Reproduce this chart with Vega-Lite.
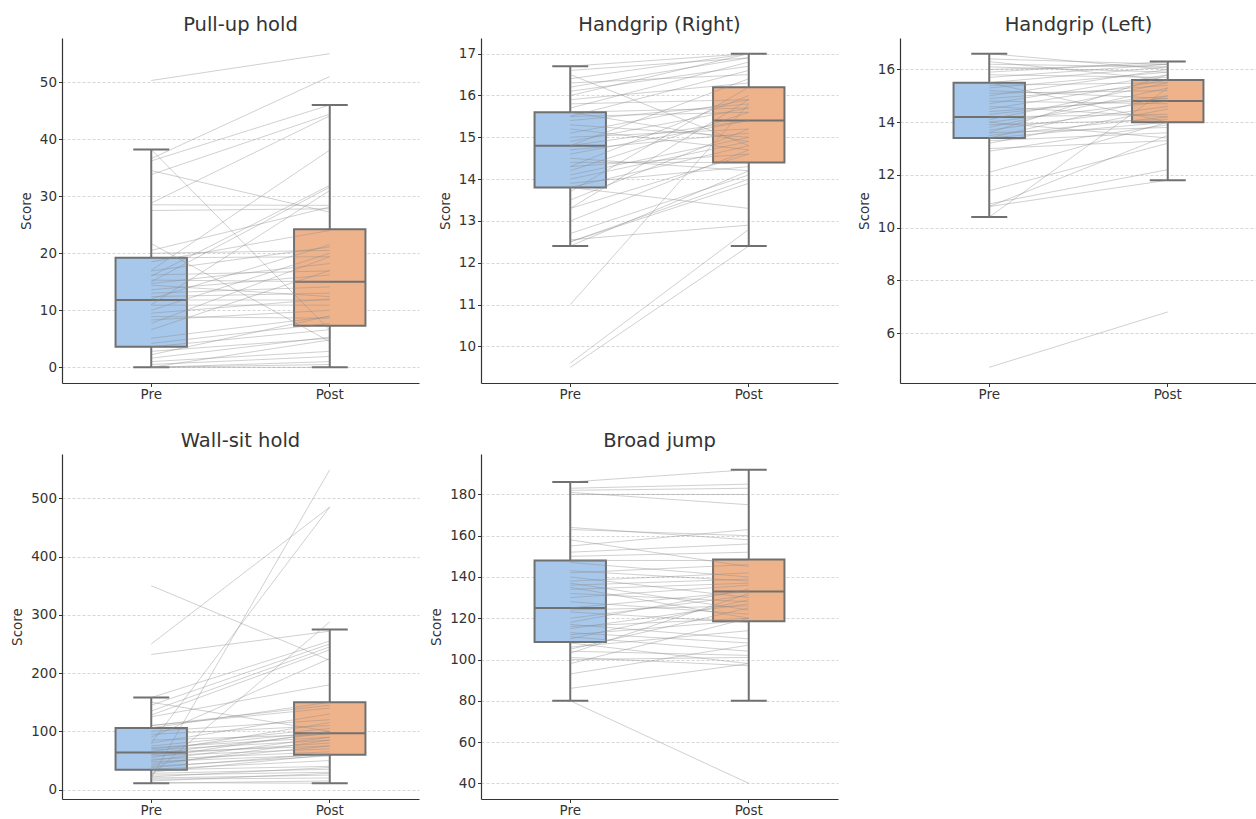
{
  "$schema": "https://vega.github.io/schema/vega-lite/v6.json",
  "padding": {"left": 10, "top": 14, "right": 5, "bottom": 2},
  "background": "white",
  "bounds": "flush",
  "columns": 3,
  "spacing": {"row": 71, "column": 62},
  "config": {
    "font": "DejaVu Sans",
    "view": {"stroke": null},
    "axis": {"domainColor": "#333333", "domainWidth": 1.2, "tickColor": "#333333", "tickSize": 3.5, "tickWidth": 1, "labelFont": "DejaVu Sans", "labelFontSize": 13.5, "labelColor": "#333333", "titleFont": "DejaVu Sans", "titleFontSize": 13.5, "titleFontWeight": "normal", "titleColor": "#333333", "labelPadding": 2, "titlePadding": 6},
    "axisY": {"grid": true, "gridColor": "#cccccc", "gridDash": [3, 2], "gridWidth": 0.8},
    "axisX": {"grid": false, "labelAngle": 0, "labelPadding": 1},
    "title": {"font": "DejaVu Sans", "fontSize": 19.5, "fontWeight": "normal", "color": "#333333", "offset": 3}
  },
  "datasets": {
    "boxes": [
      {"test": "pu", "time": "Pre", "lower": 0, "q1": 3.6, "median": 11.8, "q3": 19.2, "upper": 38.2},
      {"test": "pu", "time": "Post", "lower": 0, "q1": 7.3, "median": 15.0, "q3": 24.2, "upper": 46.0},
      {"test": "hr", "time": "Pre", "lower": 12.4, "q1": 13.8, "median": 14.8, "q3": 15.6, "upper": 16.7},
      {"test": "hr", "time": "Post", "lower": 12.4, "q1": 14.4, "median": 15.4, "q3": 16.2, "upper": 17.0},
      {"test": "hl", "time": "Pre", "lower": 10.4, "q1": 13.4, "median": 14.2, "q3": 15.5, "upper": 16.6},
      {"test": "hl", "time": "Post", "lower": 11.8, "q1": 14.0, "median": 14.8, "q3": 15.6, "upper": 16.3},
      {"test": "ws", "time": "Pre", "lower": 11, "q1": 34, "median": 64, "q3": 106, "upper": 158},
      {"test": "ws", "time": "Post", "lower": 11, "q1": 60, "median": 97, "q3": 150, "upper": 275},
      {"test": "bj", "time": "Pre", "lower": 80, "q1": 108.5, "median": 125, "q3": 148, "upper": 186},
      {"test": "bj", "time": "Post", "lower": 80, "q1": 118.5, "median": 133, "q3": 148.5, "upper": 192}
    ],
    "subjects": [
      {"test":"pu","pre":50.3,"post":55},{"test":"pu","pre":38.2,"post":6.5},{"test":"pu","pre":36.6,"post":51},{"test":"pu","pre":36.2,"post":46},{"test":"pu","pre":34.5,"post":27.2},{"test":"pu","pre":33.8,"post":44.4},{"test":"pu","pre":28.8,"post":44.1},{"test":"pu","pre":28.5,"post":28.4},{"test":"pu","pre":27.5,"post":27.8},{"test":"pu","pre":21.7,"post":4.5},{"test":"pu","pre":20.0,"post":20.5},{"test":"pu","pre":19.2,"post":19.4},{"test":"pu","pre":17.0,"post":38.1},{"test":"pu","pre":16.9,"post":21.1},{"test":"pu","pre":16.2,"post":16.9},{"test":"pu","pre":16.0,"post":31.9},{"test":"pu","pre":15.3,"post":15.0},{"test":"pu","pre":15.0,"post":31.6},{"test":"pu","pre":14.7,"post":18.2},{"test":"pu","pre":14.4,"post":12.4},{"test":"pu","pre":13.6,"post":16.2},{"test":"pu","pre":13.0,"post":14.1},{"test":"pu","pre":12.4,"post":13.0},{"test":"pu","pre":11.8,"post":11.8},{"test":"pu","pre":11.0,"post":31.0},{"test":"pu","pre":10.9,"post":10.9},{"test":"pu","pre":10.0,"post":20.0},{"test":"pu","pre":9.5,"post":12.0},{"test":"pu","pre":8.9,"post":8.6},{"test":"pu","pre":8.3,"post":10.0},{"test":"pu","pre":7.7,"post":19.4},{"test":"pu","pre":6.6,"post":17.0},{"test":"pu","pre":5.1,"post":8.9},{"test":"pu","pre":4.2,"post":7.7},{"test":"pu","pre":3.6,"post":6.6},{"test":"pu","pre":2.8,"post":5.1},{"test":"pu","pre":2.2,"post":9.0},{"test":"pu","pre":1.6,"post":5.3},{"test":"pu","pre":1.0,"post":2.8},{"test":"pu","pre":0.5,"post":1.9},{"test":"pu","pre":0,"post":1.0},{"test":"pu","pre":0,"post":0.5},{"test":"pu","pre":0,"post":0},{"test":"pu","pre":0,"post":4.8},{"test":"pu","pre":20.5,"post":28.1},{"test":"pu","pre":18.5,"post":24.0},{"test":"pu","pre":12.0,"post":21.5},
      {"test":"hr","pre":9.5,"post":12.4},{"test":"hr","pre":9.6,"post":12.8},{"test":"hr","pre":11.0,"post":15.8},{"test":"hr","pre":12.4,"post":14.2},{"test":"hr","pre":12.5,"post":14.0},{"test":"hr","pre":12.55,"post":12.9},{"test":"hr","pre":12.5,"post":13.9},{"test":"hr","pre":12.7,"post":14.1},{"test":"hr","pre":13.3,"post":15.9},{"test":"hr","pre":13.3,"post":14.6},{"test":"hr","pre":13.5,"post":15.2},{"test":"hr","pre":13.7,"post":16.2},{"test":"hr","pre":13.8,"post":13.3},{"test":"hr","pre":13.8,"post":14.8},{"test":"hr","pre":13.9,"post":14.3},{"test":"hr","pre":14.0,"post":14.9},{"test":"hr","pre":14.1,"post":15.0},{"test":"hr","pre":14.2,"post":15.6},{"test":"hr","pre":14.3,"post":14.6},{"test":"hr","pre":14.3,"post":16.0},{"test":"hr","pre":14.5,"post":14.2},{"test":"hr","pre":14.6,"post":15.4},{"test":"hr","pre":14.7,"post":15.1},{"test":"hr","pre":14.8,"post":15.4},{"test":"hr","pre":14.8,"post":16.4},{"test":"hr","pre":14.9,"post":15.7},{"test":"hr","pre":15.0,"post":15.2},{"test":"hr","pre":15.1,"post":15.9},{"test":"hr","pre":15.3,"post":15.0},{"test":"hr","pre":15.4,"post":15.8},{"test":"hr","pre":15.5,"post":15.6},{"test":"hr","pre":15.5,"post":16.6},{"test":"hr","pre":15.6,"post":15.7},{"test":"hr","pre":15.6,"post":14.9},{"test":"hr","pre":15.7,"post":16.8},{"test":"hr","pre":15.8,"post":15.9},{"test":"hr","pre":15.9,"post":16.3},{"test":"hr","pre":16.0,"post":17.0},{"test":"hr","pre":16.1,"post":16.7},{"test":"hr","pre":16.2,"post":16.9},{"test":"hr","pre":16.3,"post":16.5},{"test":"hr","pre":16.4,"post":17.0},{"test":"hr","pre":16.5,"post":14.8},{"test":"hr","pre":16.6,"post":16.9},{"test":"hr","pre":16.7,"post":17.0},{"test":"hr","pre":14.4,"post":14.4},{"test":"hr","pre":13.0,"post":14.7},{"test":"hr","pre":15.2,"post":14.7},
      {"test":"hl","pre":4.7,"post":6.8},{"test":"hl","pre":10.4,"post":15.3},{"test":"hl","pre":10.8,"post":11.8},{"test":"hl","pre":10.9,"post":12.2},{"test":"hl","pre":10.8,"post":13.5},{"test":"hl","pre":11.4,"post":13.2},{"test":"hl","pre":12.1,"post":14.0},{"test":"hl","pre":12.9,"post":13.9},{"test":"hl","pre":13.0,"post":13.3},{"test":"hl","pre":13.2,"post":14.5},{"test":"hl","pre":13.3,"post":13.6},{"test":"hl","pre":13.4,"post":14.0},{"test":"hl","pre":13.4,"post":15.0},{"test":"hl","pre":13.5,"post":14.2},{"test":"hl","pre":13.6,"post":13.8},{"test":"hl","pre":13.7,"post":14.6},{"test":"hl","pre":13.8,"post":15.3},{"test":"hl","pre":13.9,"post":14.1},{"test":"hl","pre":14.0,"post":14.8},{"test":"hl","pre":14.1,"post":15.5},{"test":"hl","pre":14.2,"post":14.3},{"test":"hl","pre":14.3,"post":15.0},{"test":"hl","pre":14.4,"post":14.9},{"test":"hl","pre":14.5,"post":15.6},{"test":"hl","pre":14.6,"post":14.2},{"test":"hl","pre":14.7,"post":15.8},{"test":"hl","pre":14.8,"post":14.7},{"test":"hl","pre":14.9,"post":15.4},{"test":"hl","pre":15.0,"post":16.0},{"test":"hl","pre":15.1,"post":15.2},{"test":"hl","pre":15.2,"post":14.9},{"test":"hl","pre":15.3,"post":15.9},{"test":"hl","pre":15.4,"post":15.5},{"test":"hl","pre":15.5,"post":16.1},{"test":"hl","pre":15.5,"post":14.0},{"test":"hl","pre":15.7,"post":16.2},{"test":"hl","pre":15.8,"post":15.7},{"test":"hl","pre":15.9,"post":16.3},{"test":"hl","pre":16.0,"post":16.2},{"test":"hl","pre":16.1,"post":15.9},{"test":"hl","pre":16.2,"post":16.1},{"test":"hl","pre":16.4,"post":16.2},{"test":"hl","pre":16.6,"post":16.0},{"test":"hl","pre":16.3,"post":15.6},{"test":"hl","pre":13.6,"post":15.8},{"test":"hl","pre":14.0,"post":13.4},
      {"test":"ws","pre":350,"post":222},{"test":"ws","pre":250,"post":485},{"test":"ws","pre":232,"post":272},{"test":"ws","pre":20,"post":549},{"test":"ws","pre":80,"post":485},{"test":"ws","pre":25,"post":288},{"test":"ws","pre":158,"post":255},{"test":"ws","pre":150,"post":100},{"test":"ws","pre":145,"post":250},{"test":"ws","pre":135,"post":245},{"test":"ws","pre":128,"post":240},{"test":"ws","pre":125,"post":180},{"test":"ws","pre":110,"post":145},{"test":"ws","pre":106,"post":150},{"test":"ws","pre":100,"post":120},{"test":"ws","pre":95,"post":110},{"test":"ws","pre":90,"post":225},{"test":"ws","pre":85,"post":95},{"test":"ws","pre":80,"post":130},{"test":"ws","pre":75,"post":105},{"test":"ws","pre":72,"post":90},{"test":"ws","pre":70,"post":100},{"test":"ws","pre":68,"post":85},{"test":"ws","pre":65,"post":115},{"test":"ws","pre":64,"post":75},{"test":"ws","pre":62,"post":97},{"test":"ws","pre":60,"post":80},{"test":"ws","pre":58,"post":70},{"test":"ws","pre":55,"post":100},{"test":"ws","pre":52,"post":65},{"test":"ws","pre":50,"post":90},{"test":"ws","pre":48,"post":60},{"test":"ws","pre":45,"post":75},{"test":"ws","pre":42,"post":85},{"test":"ws","pre":40,"post":58},{"test":"ws","pre":38,"post":62},{"test":"ws","pre":35,"post":50},{"test":"ws","pre":34,"post":40},{"test":"ws","pre":30,"post":60},{"test":"ws","pre":28,"post":35},{"test":"ws","pre":25,"post":30},{"test":"ws","pre":22,"post":38},{"test":"ws","pre":20,"post":25},{"test":"ws","pre":18,"post":20},{"test":"ws","pre":15,"post":28},{"test":"ws","pre":12,"post":11},{"test":"ws","pre":11,"post":15},{"test":"ws","pre":110,"post":140},
      {"test":"bj","pre":80,"post":40},{"test":"bj","pre":186,"post":192},{"test":"bj","pre":183,"post":185},{"test":"bj","pre":182,"post":183},{"test":"bj","pre":181,"post":175},{"test":"bj","pre":180,"post":180},{"test":"bj","pre":164,"post":158},{"test":"bj","pre":163,"post":160},{"test":"bj","pre":158,"post":145},{"test":"bj","pre":155,"post":163},{"test":"bj","pre":152,"post":156},{"test":"bj","pre":150,"post":152},{"test":"bj","pre":148,"post":148},{"test":"bj","pre":147,"post":140},{"test":"bj","pre":143,"post":138},{"test":"bj","pre":142,"post":146},{"test":"bj","pre":140,"post":130},{"test":"bj","pre":138,"post":142},{"test":"bj","pre":137,"post":124},{"test":"bj","pre":136,"post":139},{"test":"bj","pre":135,"post":120},{"test":"bj","pre":134,"post":137},{"test":"bj","pre":132,"post":128},{"test":"bj","pre":130,"post":136},{"test":"bj","pre":128,"post":122},{"test":"bj","pre":125,"post":133},{"test":"bj","pre":124,"post":126},{"test":"bj","pre":123,"post":118},{"test":"bj","pre":120,"post":131},{"test":"bj","pre":118,"post":134},{"test":"bj","pre":117,"post":110},{"test":"bj","pre":116,"post":120},{"test":"bj","pre":115,"post":127},{"test":"bj","pre":113,"post":108},{"test":"bj","pre":112,"post":119},{"test":"bj","pre":111,"post":104},{"test":"bj","pre":110,"post":129},{"test":"bj","pre":108,"post":98},{"test":"bj","pre":106,"post":114},{"test":"bj","pre":104,"post":102},{"test":"bj","pre":103,"post":132},{"test":"bj","pre":101,"post":97},{"test":"bj","pre":100,"post":101},{"test":"bj","pre":98,"post":120},{"test":"bj","pre":93,"post":107},{"test":"bj","pre":86,"post":98},{"test":"bj","pre":105,"post":125}
    ]
  },
  "concat": [
    {
      "width": 357, "height": 345, "title": "Pull-up hold",
      "layer": [
        {"data": {"name": "boxes"}, "transform": [{"filter": "datum.test === 'pu'"}], "mark": {"type": "rule", "color": "#707070", "strokeWidth": 2},
         "encoding": {"x": {"field": "time", "type": "nominal", "sort": null, "scale": {"domain": ["Pre", "Post"], "paddingInner": 0, "paddingOuter": 0}, "axis": {"title": null}},
                      "y": {"field": "lower", "type": "quantitative", "scale": {"domain": [-2.75, 57.75], "nice": false, "zero": false}, "axis": {"title": "Score", "values": [0, 10, 20, 30, 40, 50]}}, "y2": {"field": "upper"}}},
        {"data": {"name": "boxes"}, "transform": [{"filter": "datum.test === 'pu'"}], "mark": {"type": "bar", "width": {"band": 0.4}, "stroke": "#707070", "strokeWidth": 2},
         "encoding": {"x": {"field": "time", "type": "nominal", "sort": null}, "y": {"field": "q1", "type": "quantitative"}, "y2": {"field": "q3"},
                      "fill": {"field": "time", "type": "nominal", "scale": {"domain": ["Pre", "Post"], "range": ["#a7c7eb", "#efb38c"]}, "legend": null}}},
        {"data": {"name": "boxes"}, "transform": [{"filter": "datum.test === 'pu'"}], "mark": {"type": "tick", "size": 36, "thickness": 2, "color": "#707070", "opacity": 1},
         "encoding": {"x": {"field": "time", "type": "nominal", "sort": null}, "y": {"field": "lower", "type": "quantitative"}}},
        {"data": {"name": "boxes"}, "transform": [{"filter": "datum.test === 'pu'"}], "mark": {"type": "tick", "size": 36, "thickness": 2, "color": "#707070", "opacity": 1},
         "encoding": {"x": {"field": "time", "type": "nominal", "sort": null}, "y": {"field": "upper", "type": "quantitative"}}},
        {"data": {"name": "boxes"}, "transform": [{"filter": "datum.test === 'pu'"}], "mark": {"type": "tick", "size": 71, "thickness": 2, "color": "#707070", "opacity": 1},
         "encoding": {"x": {"field": "time", "type": "nominal", "sort": null}, "y": {"field": "median", "type": "quantitative"}}},
        {"data": {"name": "subjects"}, "transform": [{"filter": "datum.test === 'pu'"}], "mark": {"type": "rule", "color": "#8a8a8a", "strokeWidth": 0.9, "opacity": 0.45},
         "encoding": {"x": {"datum": "Pre", "type": "nominal"}, "x2": {"datum": "Post"}, "y": {"field": "pre", "type": "quantitative"}, "y2": {"field": "post"}}}
      ]
    },
    {
      "width": 357, "height": 345, "title": "Handgrip (Right)",
      "layer": [
        {"data": {"name": "boxes"}, "transform": [{"filter": "datum.test === 'hr'"}], "mark": {"type": "rule", "color": "#707070", "strokeWidth": 2},
         "encoding": {"x": {"field": "time", "type": "nominal", "sort": null, "scale": {"domain": ["Pre", "Post"], "paddingInner": 0, "paddingOuter": 0}, "axis": {"title": null}},
                      "y": {"field": "lower", "type": "quantitative", "scale": {"domain": [9.125, 17.375], "nice": false, "zero": false}, "axis": {"title": "Score", "values": [10, 11, 12, 13, 14, 15, 16, 17]}}, "y2": {"field": "upper"}}},
        {"data": {"name": "boxes"}, "transform": [{"filter": "datum.test === 'hr'"}], "mark": {"type": "bar", "width": {"band": 0.4}, "stroke": "#707070", "strokeWidth": 2},
         "encoding": {"x": {"field": "time", "type": "nominal", "sort": null}, "y": {"field": "q1", "type": "quantitative"}, "y2": {"field": "q3"},
                      "fill": {"field": "time", "type": "nominal", "scale": {"domain": ["Pre", "Post"], "range": ["#a7c7eb", "#efb38c"]}, "legend": null}}},
        {"data": {"name": "boxes"}, "transform": [{"filter": "datum.test === 'hr'"}], "mark": {"type": "tick", "size": 36, "thickness": 2, "color": "#707070", "opacity": 1},
         "encoding": {"x": {"field": "time", "type": "nominal", "sort": null}, "y": {"field": "lower", "type": "quantitative"}}},
        {"data": {"name": "boxes"}, "transform": [{"filter": "datum.test === 'hr'"}], "mark": {"type": "tick", "size": 36, "thickness": 2, "color": "#707070", "opacity": 1},
         "encoding": {"x": {"field": "time", "type": "nominal", "sort": null}, "y": {"field": "upper", "type": "quantitative"}}},
        {"data": {"name": "boxes"}, "transform": [{"filter": "datum.test === 'hr'"}], "mark": {"type": "tick", "size": 71, "thickness": 2, "color": "#707070", "opacity": 1},
         "encoding": {"x": {"field": "time", "type": "nominal", "sort": null}, "y": {"field": "median", "type": "quantitative"}}},
        {"data": {"name": "subjects"}, "transform": [{"filter": "datum.test === 'hr'"}], "mark": {"type": "rule", "color": "#8a8a8a", "strokeWidth": 0.9, "opacity": 0.45},
         "encoding": {"x": {"datum": "Pre", "type": "nominal"}, "x2": {"datum": "Post"}, "y": {"field": "pre", "type": "quantitative"}, "y2": {"field": "post"}}}
      ]
    },
    {
      "width": 357, "height": 345, "title": "Handgrip (Left)",
      "layer": [
        {"data": {"name": "boxes"}, "transform": [{"filter": "datum.test === 'hl'"}], "mark": {"type": "rule", "color": "#707070", "strokeWidth": 2},
         "encoding": {"x": {"field": "time", "type": "nominal", "sort": null, "scale": {"domain": ["Pre", "Post"], "paddingInner": 0, "paddingOuter": 0}, "axis": {"title": null}},
                      "y": {"field": "lower", "type": "quantitative", "scale": {"domain": [4.105, 17.195], "nice": false, "zero": false}, "axis": {"title": "Score", "values": [6, 8, 10, 12, 14, 16]}}, "y2": {"field": "upper"}}},
        {"data": {"name": "boxes"}, "transform": [{"filter": "datum.test === 'hl'"}], "mark": {"type": "bar", "width": {"band": 0.4}, "stroke": "#707070", "strokeWidth": 2},
         "encoding": {"x": {"field": "time", "type": "nominal", "sort": null}, "y": {"field": "q1", "type": "quantitative"}, "y2": {"field": "q3"},
                      "fill": {"field": "time", "type": "nominal", "scale": {"domain": ["Pre", "Post"], "range": ["#a7c7eb", "#efb38c"]}, "legend": null}}},
        {"data": {"name": "boxes"}, "transform": [{"filter": "datum.test === 'hl'"}], "mark": {"type": "tick", "size": 36, "thickness": 2, "color": "#707070", "opacity": 1},
         "encoding": {"x": {"field": "time", "type": "nominal", "sort": null}, "y": {"field": "lower", "type": "quantitative"}}},
        {"data": {"name": "boxes"}, "transform": [{"filter": "datum.test === 'hl'"}], "mark": {"type": "tick", "size": 36, "thickness": 2, "color": "#707070", "opacity": 1},
         "encoding": {"x": {"field": "time", "type": "nominal", "sort": null}, "y": {"field": "upper", "type": "quantitative"}}},
        {"data": {"name": "boxes"}, "transform": [{"filter": "datum.test === 'hl'"}], "mark": {"type": "tick", "size": 71, "thickness": 2, "color": "#707070", "opacity": 1},
         "encoding": {"x": {"field": "time", "type": "nominal", "sort": null}, "y": {"field": "median", "type": "quantitative"}}},
        {"data": {"name": "subjects"}, "transform": [{"filter": "datum.test === 'hl'"}], "mark": {"type": "rule", "color": "#8a8a8a", "strokeWidth": 0.9, "opacity": 0.45},
         "encoding": {"x": {"datum": "Pre", "type": "nominal"}, "x2": {"datum": "Post"}, "y": {"field": "pre", "type": "quantitative"}, "y2": {"field": "post"}}}
      ]
    },
    {
      "width": 357, "height": 345, "title": "Wall-sit hold",
      "layer": [
        {"data": {"name": "boxes"}, "transform": [{"filter": "datum.test === 'ws'"}], "mark": {"type": "rule", "color": "#707070", "strokeWidth": 2},
         "encoding": {"x": {"field": "time", "type": "nominal", "sort": null, "scale": {"domain": ["Pre", "Post"], "paddingInner": 0, "paddingOuter": 0}, "axis": {"title": null}},
                      "y": {"field": "lower", "type": "quantitative", "scale": {"domain": [-16, 576], "nice": false, "zero": false}, "axis": {"title": "Score", "values": [0, 100, 200, 300, 400, 500]}}, "y2": {"field": "upper"}}},
        {"data": {"name": "boxes"}, "transform": [{"filter": "datum.test === 'ws'"}], "mark": {"type": "bar", "width": {"band": 0.4}, "stroke": "#707070", "strokeWidth": 2},
         "encoding": {"x": {"field": "time", "type": "nominal", "sort": null}, "y": {"field": "q1", "type": "quantitative"}, "y2": {"field": "q3"},
                      "fill": {"field": "time", "type": "nominal", "scale": {"domain": ["Pre", "Post"], "range": ["#a7c7eb", "#efb38c"]}, "legend": null}}},
        {"data": {"name": "boxes"}, "transform": [{"filter": "datum.test === 'ws'"}], "mark": {"type": "tick", "size": 36, "thickness": 2, "color": "#707070", "opacity": 1},
         "encoding": {"x": {"field": "time", "type": "nominal", "sort": null}, "y": {"field": "lower", "type": "quantitative"}}},
        {"data": {"name": "boxes"}, "transform": [{"filter": "datum.test === 'ws'"}], "mark": {"type": "tick", "size": 36, "thickness": 2, "color": "#707070", "opacity": 1},
         "encoding": {"x": {"field": "time", "type": "nominal", "sort": null}, "y": {"field": "upper", "type": "quantitative"}}},
        {"data": {"name": "boxes"}, "transform": [{"filter": "datum.test === 'ws'"}], "mark": {"type": "tick", "size": 71, "thickness": 2, "color": "#707070", "opacity": 1},
         "encoding": {"x": {"field": "time", "type": "nominal", "sort": null}, "y": {"field": "median", "type": "quantitative"}}},
        {"data": {"name": "subjects"}, "transform": [{"filter": "datum.test === 'ws'"}], "mark": {"type": "rule", "color": "#8a8a8a", "strokeWidth": 0.9, "opacity": 0.45},
         "encoding": {"x": {"datum": "Pre", "type": "nominal"}, "x2": {"datum": "Post"}, "y": {"field": "pre", "type": "quantitative"}, "y2": {"field": "post"}}}
      ]
    },
    {
      "width": 357, "height": 345, "title": "Broad jump",
      "layer": [
        {"data": {"name": "boxes"}, "transform": [{"filter": "datum.test === 'bj'"}], "mark": {"type": "rule", "color": "#707070", "strokeWidth": 2},
         "encoding": {"x": {"field": "time", "type": "nominal", "sort": null, "scale": {"domain": ["Pre", "Post"], "paddingInner": 0, "paddingOuter": 0}, "axis": {"title": null}},
                      "y": {"field": "lower", "type": "quantitative", "scale": {"domain": [32.4, 199.6], "nice": false, "zero": false}, "axis": {"title": "Score", "values": [40, 60, 80, 100, 120, 140, 160, 180]}}, "y2": {"field": "upper"}}},
        {"data": {"name": "boxes"}, "transform": [{"filter": "datum.test === 'bj'"}], "mark": {"type": "bar", "width": {"band": 0.4}, "stroke": "#707070", "strokeWidth": 2},
         "encoding": {"x": {"field": "time", "type": "nominal", "sort": null}, "y": {"field": "q1", "type": "quantitative"}, "y2": {"field": "q3"},
                      "fill": {"field": "time", "type": "nominal", "scale": {"domain": ["Pre", "Post"], "range": ["#a7c7eb", "#efb38c"]}, "legend": null}}},
        {"data": {"name": "boxes"}, "transform": [{"filter": "datum.test === 'bj'"}], "mark": {"type": "tick", "size": 36, "thickness": 2, "color": "#707070", "opacity": 1},
         "encoding": {"x": {"field": "time", "type": "nominal", "sort": null}, "y": {"field": "lower", "type": "quantitative"}}},
        {"data": {"name": "boxes"}, "transform": [{"filter": "datum.test === 'bj'"}], "mark": {"type": "tick", "size": 36, "thickness": 2, "color": "#707070", "opacity": 1},
         "encoding": {"x": {"field": "time", "type": "nominal", "sort": null}, "y": {"field": "upper", "type": "quantitative"}}},
        {"data": {"name": "boxes"}, "transform": [{"filter": "datum.test === 'bj'"}], "mark": {"type": "tick", "size": 71, "thickness": 2, "color": "#707070", "opacity": 1},
         "encoding": {"x": {"field": "time", "type": "nominal", "sort": null}, "y": {"field": "median", "type": "quantitative"}}},
        {"data": {"name": "subjects"}, "transform": [{"filter": "datum.test === 'bj'"}], "mark": {"type": "rule", "color": "#8a8a8a", "strokeWidth": 0.9, "opacity": 0.45},
         "encoding": {"x": {"datum": "Pre", "type": "nominal"}, "x2": {"datum": "Post"}, "y": {"field": "pre", "type": "quantitative"}, "y2": {"field": "post"}}}
      ]
    }
  ]
}
